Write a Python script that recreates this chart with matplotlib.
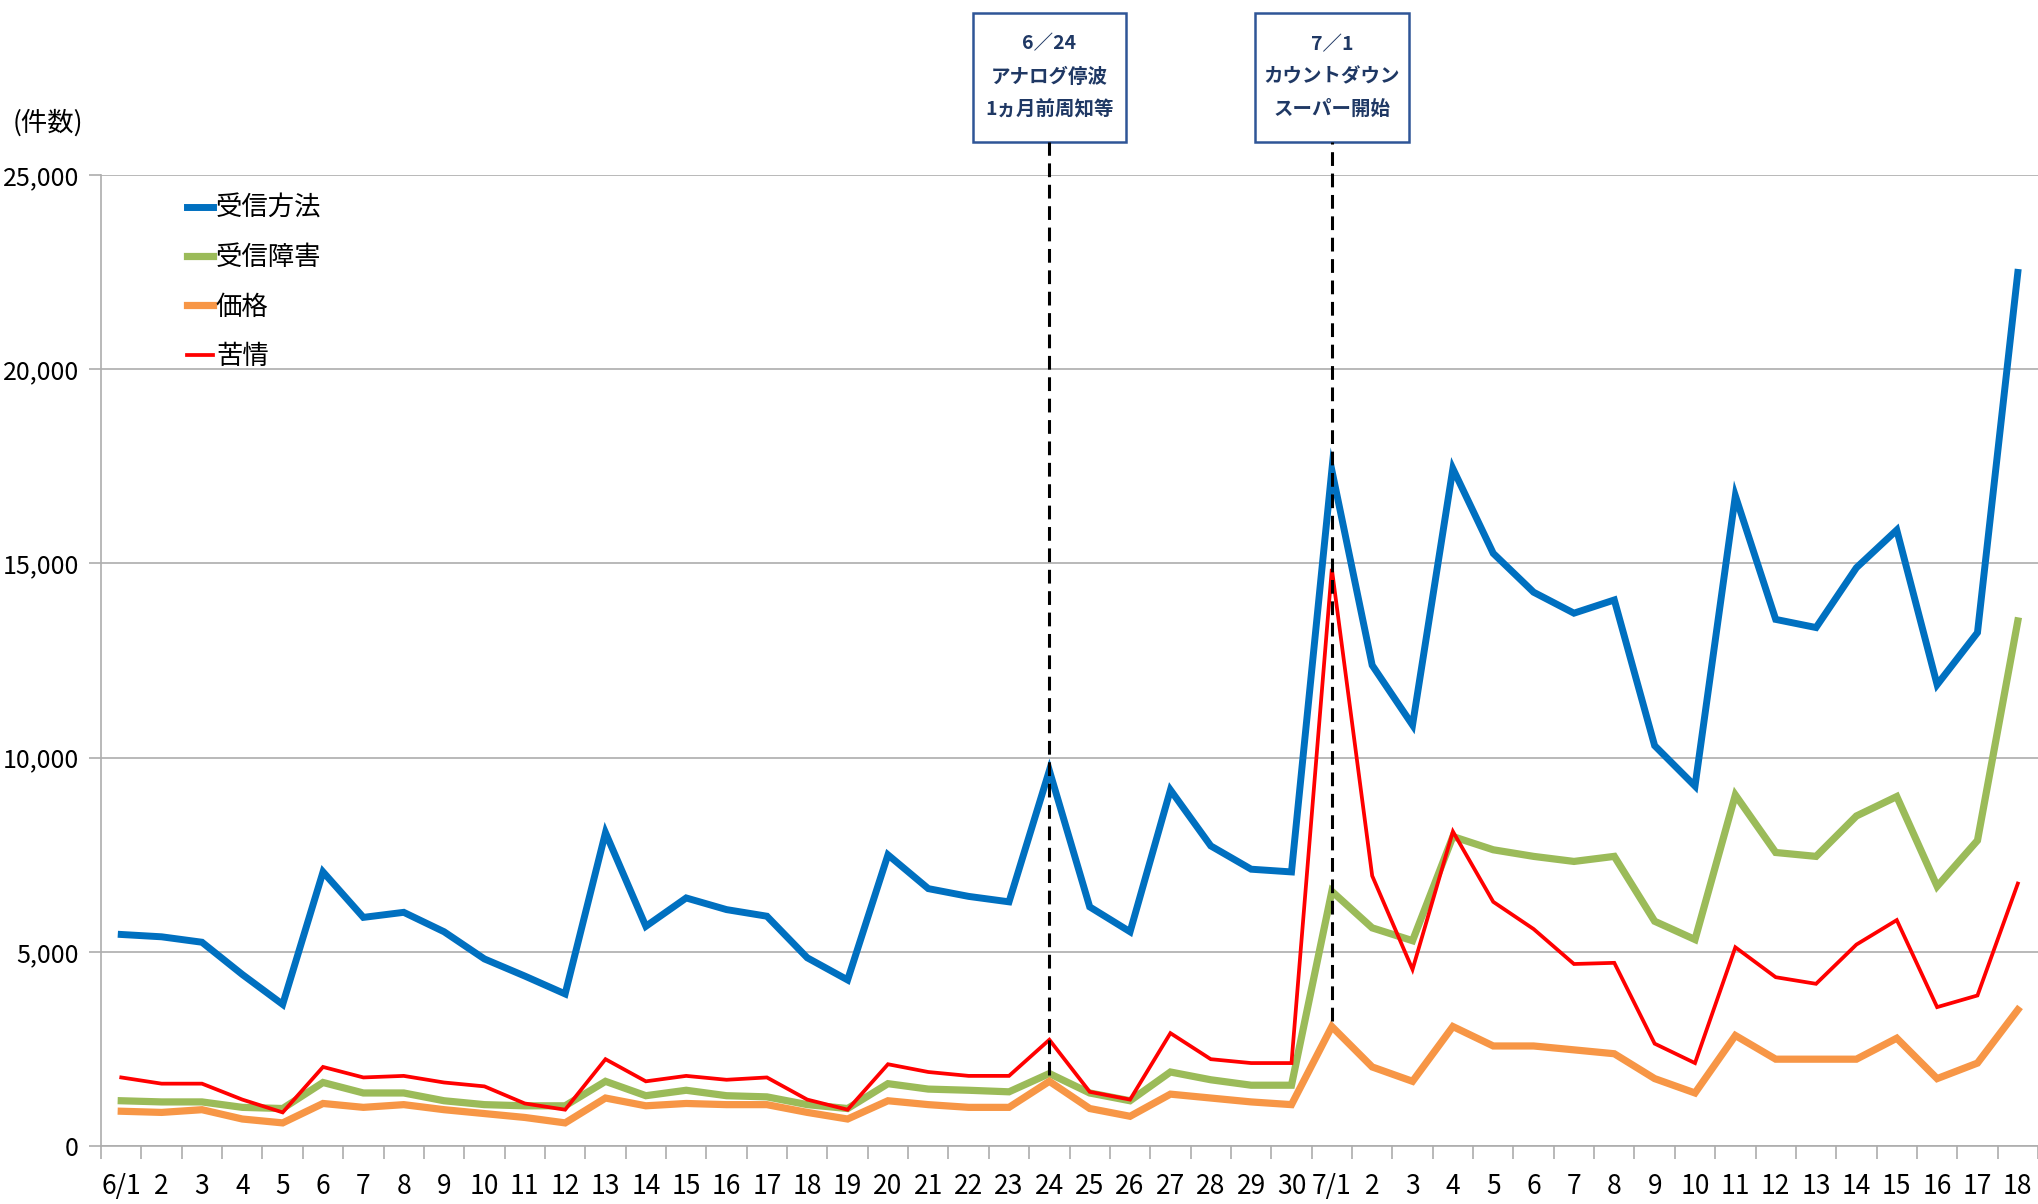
import matplotlib
matplotlib.use("Agg")
import matplotlib.pyplot as plt
from matplotlib.patches import Rectangle
from matplotlib.transforms import blended_transform_factory

plt.rcParams['font.family'] = ['Liberation Sans Narrow', 'Noto Sans CJK JP', 'DejaVu Sans']

# daily counts, 6/1 - 7/18
dates = ['6/1'] + [str(d) for d in range(2, 31)] + ['7/1'] + [str(d) for d in range(2, 19)]

reception_method = [5450, 5390, 5250, 4420, 3650, 7060, 5890, 6020, 5520, 4820,
                    4380, 3920, 8070, 5660, 6390, 6090, 5920, 4850, 4280, 7500,
                    6630, 6430, 6290, 9670, 6160, 5520, 9170, 7730, 7130, 7060,
                    17400, 12380, 10840, 17440, 15260, 14260, 13720, 14060, 10310, 9270,
                    16740, 13560, 13350, 14890, 15860, 11880, 13220, 22490]
reception_trouble = [1170, 1140, 1140, 1000, 970, 1640, 1370, 1370, 1170, 1070,
                     1040, 1040, 1670, 1300, 1440, 1300, 1270, 1070, 970, 1610,
                     1470, 1440, 1400, 1870, 1370, 1170, 1910, 1710, 1570, 1570,
                     6560, 5620, 5290, 7970, 7630, 7460, 7330, 7460, 5790, 5320,
                     9040, 7560, 7460, 8500, 9000, 6690, 7870, 13520]
price = [900, 870, 940, 700, 600, 1100, 1000, 1070, 940, 840,
         740, 600, 1240, 1040, 1100, 1070, 1070, 870, 700, 1170,
         1070, 1000, 1000, 1670, 970, 770, 1340, 1240, 1140, 1070,
         3080, 2040, 1670, 3080, 2580, 2580, 2480, 2380, 1740, 1370,
         2850, 2240, 2240, 2240, 2780, 1740, 2140, 3510]
complaints = [1770, 1610, 1610, 1200, 870, 2040, 1770, 1810, 1640, 1540,
              1100, 940, 2240, 1670, 1810, 1710, 1770, 1200, 940, 2110,
              1910, 1810, 1810, 2740, 1400, 1200, 2910, 2240, 2140, 2140,
              14860, 6960, 4550, 8100, 6290, 5590, 4690, 4720, 2640, 2140,
              5120, 4350, 4180, 5190, 5820, 3580, 3880, 6760]

series = [
    ('受信方法', reception_method, '#0070C0', 5.0),
    ('受信障害', reception_trouble, '#9BBB59', 5.2),
    ('価格', price, '#F79646', 5.2),
    ('苦情', complaints, '#FF0000', 2.7),
]

# event markers: (index into dates, label lines)
events = [(23, '6／24\nアナログ停波\n1ヵ月前周知等'),
          (30, '7／1\nカウントダウン\nスーパー開始')]

fig = plt.figure(figsize=(20.38, 12.04), dpi=100)
ax = fig.add_axes([0.0496, 0.048, 0.9504, 0.8067])

x = list(range(len(dates)))
for name, vals, color, lw in series:
    ax.plot(x, vals, color=color, lw=lw, label=name, solid_joinstyle='miter')

ax.set_xlim(-0.5, len(dates) - 0.5)
ax.set_ylim(0, 25000)
ax.set_yticks(range(0, 25001, 5000))
ax.set_yticklabels([f'{v:,}' for v in range(0, 25001, 5000)], fontsize=18)
ax.yaxis.grid(True, color='#ADADAD', lw=1.2)
ax.set_axisbelow(True)

# category labels at centres, tick marks between categories
ax.set_xticks(x)
ax.set_xticklabels(dates, fontsize=19)
ax.set_xticks([i - 0.5 for i in range(len(dates) + 1)], minor=True)
ax.tick_params(axis='x', which='major', length=0, pad=19)
ax.tick_params(axis='x', which='minor', length=9, color='#ADADAD', width=1.2)
ax.tick_params(axis='y', length=9, color='#ADADAD', width=1.2, pad=7)

for side in ['top', 'right']:
    ax.spines[side].set_visible(False)
ax.spines['left'].set_color('#ADADAD')
ax.spines['bottom'].set_color('#ADADAD')
ax.spines['left'].set_linewidth(1.2)
ax.spines['bottom'].set_linewidth(1.2)

fig.text(13 / 2038, 1 - 123 / 1204, '(件数)', fontsize=19, va='center', ha='left')

leg = ax.legend(loc='upper left', bbox_to_anchor=(0.032, 1.004), frameon=False,
                fontsize=19, handlelength=1.0, handletextpad=0.1, labelspacing=0.85)

# event boxes above the plot with dashed guide lines
trans = blended_transform_factory(ax.transData, ax.transAxes)
for idx, label in events:
    ax.add_patch(Rectangle((idx - 1.9, 1.034), 3.8, 0.133, transform=trans,
                           facecolor='white', edgecolor='#2F5597', lw=1.8, clip_on=False))
    ax.text(idx, 1.1005, label, transform=trans, ha='center', va='center',
            fontsize=14, fontweight='bold', color='#1F3864', linespacing=1.9)
    ax.plot([idx, idx], [price[idx] + 150, 25000 * 1.034], color='black', lw=2.2,
            linestyle=(0, (4.5, 2.5)), clip_on=False)

fig.savefig('out.png', dpi=100)
